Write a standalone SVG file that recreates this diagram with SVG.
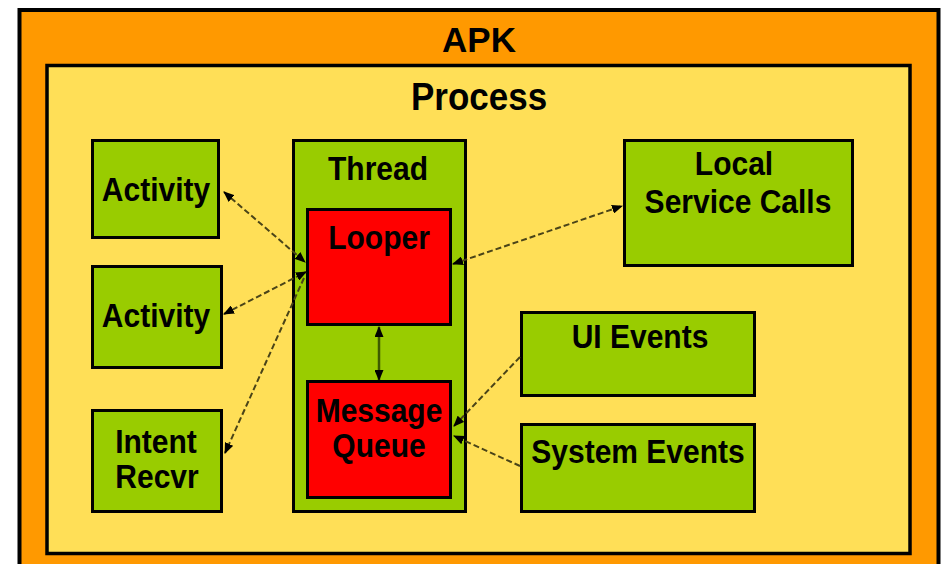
<svg xmlns="http://www.w3.org/2000/svg" width="942" height="564" viewBox="0 0 942 564">
<style>
.apk{fill:#FF9900;stroke:#000;stroke-width:4}
.proc{fill:#FFDF57;stroke:#000;stroke-width:3.5}
.g{fill:#99CC00;stroke:#000;stroke-width:3}
.r{fill:#FF0000;stroke:#000;stroke-width:3}
.t{font-family:"Liberation Sans",Arial,sans-serif;font-weight:bold;font-size:30px;text-anchor:middle;fill:#000}
.big{font-size:35px}
.c{fill:none;stroke:#4a4418;stroke-width:2;stroke-dasharray:6 3}
.cs{fill:none;stroke:#3d5a00;stroke-width:2.5}
</style>
<defs>
<marker id="ah" markerUnits="userSpaceOnUse" markerWidth="11" markerHeight="9" refX="10" refY="4.5" orient="auto-start-reverse" viewBox="0 0 11 9">
<path d="M0,0 L11,4.5 L0,9 z" fill="#000"/>
</marker>
</defs>
<g id="apk">
<rect class="apk" x="19.5" y="10" width="919" height="580"/>
<text class="t big" transform="translate(479,52)">APK</text>
</g>
<g id="process">
<rect class="proc" x="47" y="65.5" width="863" height="488"/>
<text class="t big" transform="translate(479,110) scale(1,1.1)">Process</text>
</g>
<g id="activity1">
<rect class="g" x="92.5" y="140.5" width="126" height="97"/>
<text class="t" transform="translate(156,201) scale(1,1.08)">Activity</text>
</g>
<g id="activity2">
<rect class="g" x="92.5" y="266.5" width="129" height="101"/>
<text class="t" transform="translate(156,327) scale(1,1.08)">Activity</text>
</g>
<g id="intent">
<rect class="g" x="92.5" y="410.5" width="129" height="101"/>
<text class="t" transform="translate(156,453) scale(1,1.08)">Intent</text>
<text class="t" transform="translate(157,488) scale(1,1.08)">Recvr</text>
</g>
<g id="thread">
<rect class="g" x="293.5" y="140.5" width="172" height="371"/>
<text class="t" transform="translate(378,180) scale(1,1.08)">Thread</text>
</g>
<g id="looper">
<rect class="r" x="307.5" y="209.5" width="143" height="115"/>
<text class="t" transform="translate(379,249) scale(1,1.08)">Looper</text>
</g>
<g id="queue">
<rect class="r" x="307.5" y="381.5" width="143" height="116"/>
<text class="t" transform="translate(379,422) scale(1,1.08)">Message</text>
<text class="t" transform="translate(379,457) scale(1,1.08)">Queue</text>
</g>
<g id="local">
<rect class="g" x="624.5" y="140.5" width="228" height="125"/>
<text class="t" transform="translate(734,175) scale(1,1.08)">Local</text>
<text class="t" transform="translate(738,213) scale(1,1.08)">Service Calls</text>
</g>
<g id="ui">
<rect class="g" x="521.5" y="312.5" width="233" height="83"/>
<text class="t" transform="translate(640,348) scale(1,1.08)">UI Events</text>
</g>
<g id="system">
<rect class="g" x="521.5" y="424.5" width="233" height="87"/>
<text class="t" transform="translate(638,463) scale(1,1.08)">System Events</text>
</g>
<g id="connectors">
<line class="c" x1="224" y1="192" x2="305" y2="262" marker-start="url(#ah)" marker-end="url(#ah)"/>
<line class="c" x1="224" y1="314" x2="306" y2="272" marker-start="url(#ah)" marker-end="url(#ah)"/>
<line class="c" x1="304" y1="278" x2="225" y2="453" marker-end="url(#ah)"/>
<line class="c" x1="453" y1="264" x2="622" y2="206" marker-start="url(#ah)" marker-end="url(#ah)"/>
<line class="cs" x1="379" y1="327" x2="379" y2="380" marker-start="url(#ah)" marker-end="url(#ah)"/>
<line class="c" x1="520" y1="357" x2="454" y2="426" marker-end="url(#ah)"/>
<line class="c" x1="520" y1="466" x2="454" y2="436" marker-end="url(#ah)"/>
</g>
</svg>
